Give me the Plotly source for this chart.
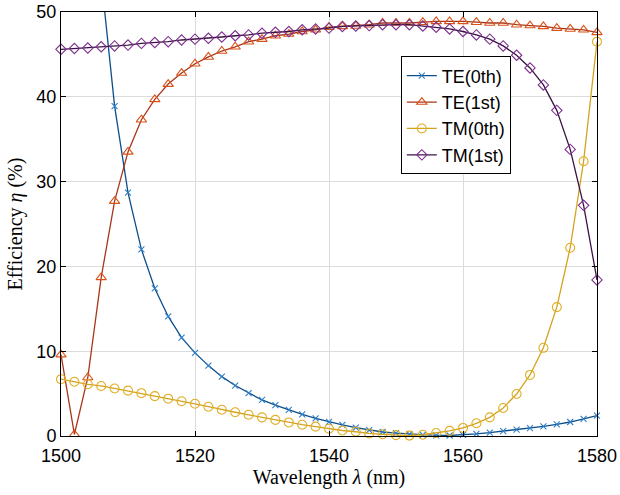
import plotly.graph_objects as go

# Wavelength grid (nm), sampled every 2 nm
wavelength = list(range(1500, 1581, 2))

# Diffraction efficiencies (%)
te_0th = [159, 109, 76, 54, 38.9, 28.7, 22.0, 17.4, 14.1, 11.6, 9.8, 8.3, 7.0, 5.95,
          5.05, 4.25, 3.65, 3.07, 2.55, 2.08, 1.67,
          1.32, 1.0, 0.7, 0.47, 0.33, 0.22, 0.12, 0.08, 0.06, 0.12, 0.25, 0.4, 0.57,
          0.75, 0.92, 1.14, 1.38, 1.65, 2.02, 2.4]
te_1st = [9.6, 0.2, 6.9, 18.7, 27.7, 33.5, 37.3, 39.7, 41.5, 42.8, 43.9, 44.7, 45.4,
          45.9, 46.5, 46.8, 47.2, 47.4, 47.7, 47.9, 48.2,
          48.3, 48.35, 48.5, 48.7, 48.7, 48.7, 48.8, 48.9, 48.9, 48.9, 48.8, 48.7,
          48.7, 48.5, 48.4, 48.3, 48.1, 48.0, 47.9, 47.6]
tm_0th = [6.7, 6.4, 6.1, 5.9, 5.6, 5.35, 5.05, 4.7, 4.4, 4.1, 3.8, 3.45, 3.1, 2.8,
          2.5, 2.2, 1.9, 1.6, 1.33, 1.1, 0.86,
          0.65, 0.5, 0.3, 0.2, 0.1, 0.05, 0.15, 0.35, 0.6, 0.95, 1.5, 2.2, 3.3,
          4.95, 7.2, 10.4, 15.2, 22.2, 32.4, 46.5]
tm_1st = [45.6, 45.7, 45.75, 45.9, 46.0, 46.1, 46.3, 46.4, 46.5, 46.7, 46.8, 46.9,
          47.05, 47.2, 47.3, 47.5, 47.6, 47.7, 47.9, 48.0, 48.1,
          48.3, 48.35, 48.4, 48.5, 48.5, 48.5, 48.35, 48.2, 48.0, 47.7, 47.3, 46.8,
          46.0, 44.9, 43.4, 41.4, 38.4, 33.8, 27.2, 18.4]

series_names = ["TE(0th)", "TE(1st)", "TM(0th)", "TM(1st)"]
series_values = [te_0th, te_1st, tm_0th, tm_1st]
line_colors = ["#0b4f8a", "#a8361a", "#d4a21c", "#3b1246"]
marker_colors = ["#2f7fc8", "#d95319", "#e0ae25", "#7e2f8e"]
marker_symbols = ["x-thin-open", "triangle-up-open", "circle-open", "diamond-open"]
marker_sizes = [6, 9, 9, 8]

fig = go.Figure()
for name, vals, lc, mc, sym, ms in zip(series_names, series_values, line_colors,
                                       marker_colors, marker_symbols, marker_sizes):
    fig.add_trace(go.Scatter(
        x=wavelength, y=vals, name=name, mode="lines+markers",
        line=dict(color=lc, width=1.3),
        marker=dict(symbol=sym, size=ms, color=mc, line=dict(color=mc, width=1.1)),
        cliponaxis=False,
    ))

axis_common = dict(
    showline=True, linecolor="black", linewidth=1, mirror="ticks",
    ticks="inside", ticklen=5, tickcolor="black", tickwidth=1,
    showgrid=True, gridcolor="#dcdcdc", gridwidth=1, zeroline=False,
    automargin=False,
    tickfont=dict(family="Liberation Sans, Arial, sans-serif", size=18, color="black"),
)

fig.update_xaxes(
    range=[1500, 1580], tickvals=[1500, 1520, 1540, 1560, 1580],
    ticklabelstandoff=3,
    title=dict(text="Wavelength <i>λ</i> (nm)",
               font=dict(family="Liberation Serif, Times New Roman, serif", size=20,
                         color="black"),
               standoff=5),
    **axis_common,
)
fig.update_yaxes(
    range=[0, 50], tickvals=[0, 10, 20, 30, 40, 50],
    title=dict(text="Efficiency <i>η</i> (%)",
               font=dict(family="Liberation Serif, Times New Roman, serif", size=20,
                         color="black"),
               standoff=8),
    **axis_common,
)

fig.update_layout(
    width=620, height=495,
    margin=dict(l=61, r=23, t=12, b=59),
    paper_bgcolor="white", plot_bgcolor="white",
    showlegend=True,
    legend=dict(
        x=0.634, y=0.756, xanchor="left", yanchor="middle",
        bgcolor="white", bordercolor="black", borderwidth=1,
        font=dict(family="Liberation Sans, Arial, sans-serif", size=18, color="black"),
        itemwidth=30, tracegroupgap=0,
    ),
)

fig.write_html("out.html")
